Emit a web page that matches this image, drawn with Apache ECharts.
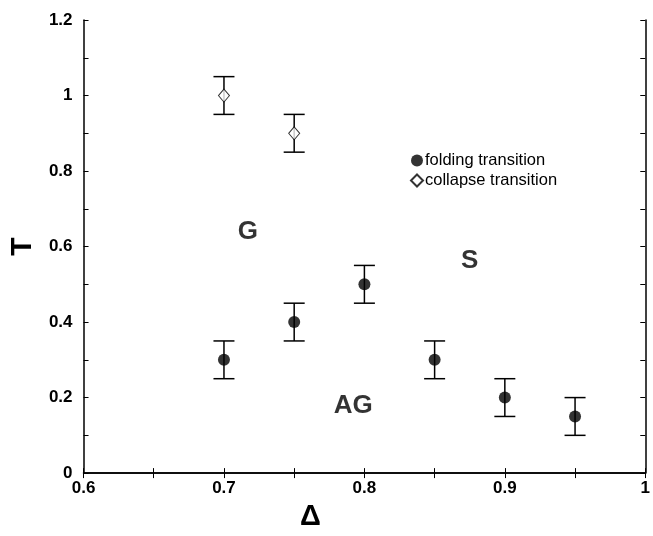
<!DOCTYPE html>
<html><head><meta charset="utf-8">
<script src="https://cdn.jsdelivr.net/npm/echarts@6/dist/echarts.min.js"></script>
<style>html,body{margin:0;padding:0;background:#fff}#c{width:653px;height:536px}</style>
</head><body><div id="c"></div>
<script>
const foldingX = [0.7, 0.75, 0.8, 0.85, 0.9, 0.95];
const foldingT = [0.3, 0.4, 0.5, 0.3, 0.2, 0.15];
const foldingErr = [0.05, 0.05, 0.05, 0.05, 0.05, 0.05];
const collapseX = [0.7, 0.75];
const collapseT = [1.0, 0.9];
const collapseErr = [0.05, 0.05];
const regionLabels = ['G', 'S', 'AG'];
const regionX = [0.717, 0.875, 0.792];
const regionT = [0.64, 0.562, 0.177];

const FONT = 'Liberation Sans, Arial, sans-serif';
const fold = foldingX.map((x, i) => [x, foldingT[i]]);
const coll = collapseX.map((x, i) => [x, collapseT[i]]);
const errData = foldingX.map((x, i) => [x, foldingT[i] - foldingErr[i], foldingT[i] + foldingErr[i]])
  .concat(collapseX.map((x, i) => [x, collapseT[i] - collapseErr[i], collapseT[i] + collapseErr[i]]));

function errItem(params, api) {
  const x = api.value(0), lo = api.value(1), hi = api.value(2);
  const p1 = api.coord([x, lo]), p2 = api.coord([x, hi]);
  const w = 10.5;
  const st = { stroke: '#000', lineWidth: 1.5, fill: null };
  return { type: 'group', children: [
    { type: 'line', shape: { x1: p1[0], y1: p1[1], x2: p2[0], y2: p2[1] }, style: st },
    { type: 'line', shape: { x1: p1[0] - w, y1: p1[1], x2: p1[0] + w, y2: p1[1] }, style: st },
    { type: 'line', shape: { x1: p2[0] - w, y1: p2[1], x2: p2[0] + w, y2: p2[1] }, style: st }
  ]};
}

const axisCommon = {
  axisLine: { lineStyle: { color: '#000', width: 1.5 } },
  axisTick: { inside: true, length: 5, lineStyle: { color: '#000', width: 1 } },
  minorTick: { show: true, splitNumber: 2, length: 5, lineStyle: { color: '#000', width: 1 } },
  splitLine: { show: false }
};
const xBase = Object.assign({}, axisCommon, { type: 'value', min: 0.6, max: 1, interval: 0.1 });
const yBase = Object.assign({}, axisCommon, { type: 'value', min: 0, max: 1.2, interval: 0.2 });
const chart = echarts.init(document.getElementById('c'));
chart.setOption({
  animation: false,
  grid: { left: 82, right: 1, top: 20, bottom: 41, containLabel: false },
  xAxis: [
    Object.assign({}, xBase, {
      position: 'bottom',
      name: 'Δ', nameLocation: 'middle', nameGap: 19,
      nameTextStyle: { fontFamily: FONT, fontSize: 29, fontWeight: 'bold', color: '#000', padding: [0, 108, 0, 0] },
      axisLabel: { fontFamily: FONT, fontSize: 17, fontWeight: 'bold', color: '#000', margin: 7,
        formatter: v => (Math.abs(v - 1) < 1e-9 ? '1' : v.toFixed(1)) }
    }),
    Object.assign({}, xBase, { position: 'top', axisLabel: { show: false } })
  ],
  yAxis: [
    Object.assign({}, yBase, {
      position: 'left',
      name: 'T', nameLocation: 'middle', nameGap: 43, nameRotate: 90,
      nameTextStyle: { fontFamily: FONT, fontSize: 30, fontWeight: 'bold', color: '#000' },
      axisLabel: { fontFamily: FONT, fontSize: 17, fontWeight: 'bold', color: '#000', margin: 11,
        formatter: v => (v === 0 ? '0' : (Math.abs(v - 1) < 1e-9 ? '1' : String(Math.round(v * 10) / 10))) }
    }),
    Object.assign({}, yBase, { position: 'right', axisLabel: { show: false } })
  ],
  legend: {
    orient: 'vertical', left: 405, top: 147, itemGap: 3, itemWidth: 12, itemHeight: 12,
    textStyle: { fontFamily: FONT, fontSize: 16.5, color: '#000', padding: [0, 0, 0, -3] },
    data: ['folding transition', 'collapse transition']
  },
  series: [
    { type: 'custom', name: 'err', renderItem: errItem, data: errData, encode: { x: 0, y: [1, 2] }, z: 1, silent: true },
    { type: 'scatter', name: 'folding transition', data: fold, symbol: 'circle', symbolSize: 12,
      itemStyle: { color: '#000' }, z: 3 },
    { type: 'scatter', name: 'collapse transition', data: coll, symbol: 'diamond', symbolSize: [11, 13],
      itemStyle: { color: '#fff', borderColor: '#000', borderWidth: 1 }, z: 3 },
    { type: 'scatter', name: 'regions', silent: true, symbolSize: 0,
      data: regionLabels.map((t, i) => ({ value: [regionX[i], regionT[i]], name: t })),
      label: { show: true, position: 'inside', formatter: p => p.name,
        fontFamily: FONT, fontSize: 26, fontWeight: 'bold', color: '#000' } }
  ]
});
</script></body></html>
